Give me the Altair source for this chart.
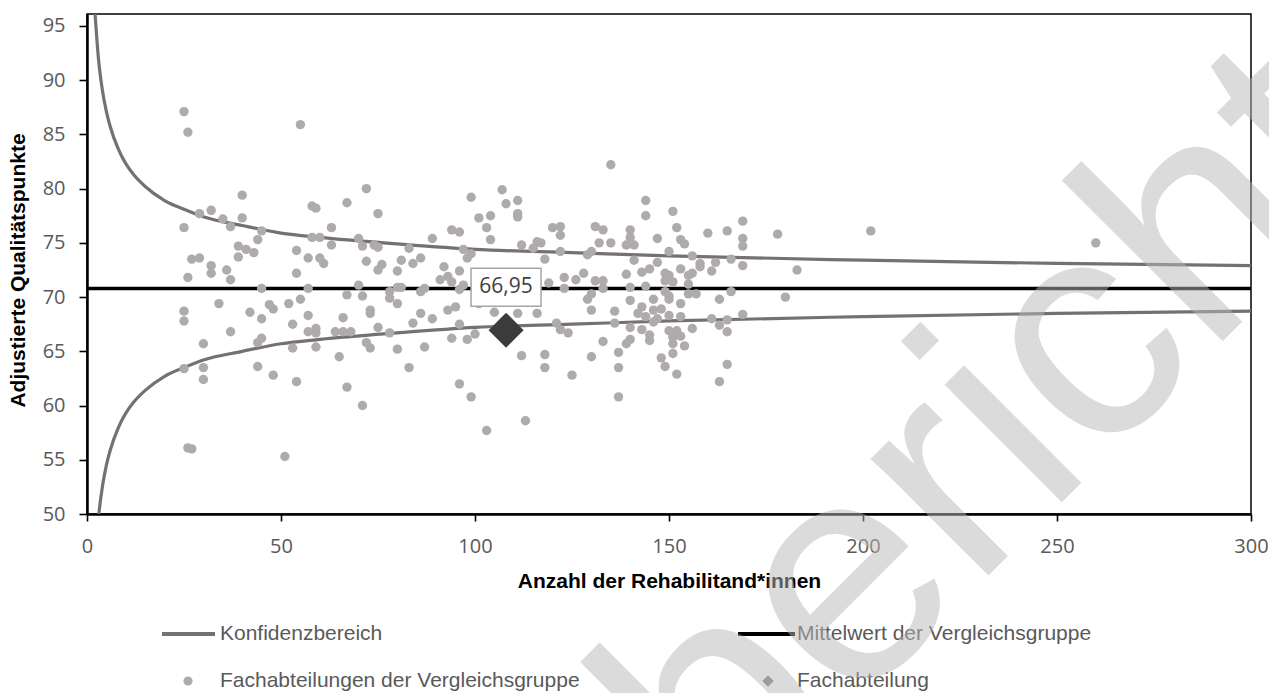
import altair as alt
import pandas as pd

# ---------------- data ----------------
# Fachabteilungen der Vergleichsgruppe: (Anzahl Rehabilitand*innen, adjustierte Qualitätspunkte)
group_n = [25, 26, 55, 72, 40, 29, 32, 35, 37, 40, 25, 45, 44, 39, 41, 43, 39, 27, 29, 32, 36, 32, 26, 54,
           58, 59, 67, 75, 63, 58, 60, 63, 70, 71, 74, 75, 57, 60, 61, 72, 75, 76, 80, 81, 54,
           37, 45, 57, 25, 25, 34, 42, 45, 47, 48, 52, 55, 57, 53, 57, 59, 59, 37, 30, 45, 44, 53, 59,
           67, 70, 71, 66, 64, 66, 68, 73, 73, 75, 78, 78, 80, 80, 78, 72, 73, 80, 65, 25, 30, 30, 44,
           48, 54, 67, 71, 26, 27, 51,
           135, 107, 99, 108, 111, 111, 111, 104, 101, 103, 104, 94, 96, 89, 83, 84, 86, 97, 99, 98, 92,
           96, 91, 93, 94, 97, 96, 87, 86, 81, 101, 95, 93, 86, 89, 84, 96, 105, 111, 116, 100, 98, 94,
           87, 83, 112, 118, 118, 125, 119, 123, 123, 126, 128, 118, 122, 116, 117, 112, 115, 120, 122,
           122, 131, 133, 132, 135, 130, 129, 131, 133, 133, 130, 129, 130, 136, 136, 121, 122, 124, 133,
           130, 137, 137, 139, 140, 140, 143, 145, 145, 140, 140, 139, 141, 144, 144, 141, 139, 143, 145,
           147, 147, 150, 151, 152, 153, 154, 156, 158, 160, 165, 169, 169, 169, 178, 166, 169, 162, 161,
           158, 153, 149, 150, 149, 151, 155, 156, 155, 144, 140, 149, 150, 155, 157, 166, 163, 180, 183,
           140, 146, 150, 153, 143, 146, 148, 142, 144, 147, 150, 153, 161, 165, 169, 163, 156, 146, 150,
           152, 151, 153, 151, 154, 151, 165, 148, 149, 152, 165, 96, 99, 103, 113, 137, 163, 202, 260]
group_q = [87.1, 85.2, 85.9, 80.0, 79.4, 77.7, 78.0, 77.2, 76.5, 77.3, 76.4, 76.1, 75.3, 74.7, 74.4, 74.1,
           73.7, 73.5, 73.6, 72.9, 72.5, 72.2, 71.8, 74.3,
           78.4, 78.2, 78.7, 77.7, 76.4, 75.5, 75.5, 74.8, 75.4, 74.7, 74.8, 74.6, 73.6, 73.6, 73.1, 73.3,
           72.5, 73.0, 72.4, 73.4, 72.2,
           71.6, 70.8, 70.8, 68.7, 67.8, 69.4, 68.6, 68.0, 69.3, 68.9, 69.4, 69.8, 68.3, 67.5, 66.8, 67.1,
           66.7, 66.8, 65.7, 66.2, 65.8, 65.3, 65.4,
           70.2, 71.1, 70.1, 68.1, 66.8, 66.8, 66.8, 68.8, 68.5, 67.2, 70.5, 69.9, 69.4, 70.9, 66.7, 65.8,
           65.3, 65.2, 64.5, 63.4, 63.5, 62.4, 63.6,
           62.8, 62.2, 61.7, 60.0, 56.1, 56.0, 55.3,
           82.2, 79.9, 79.2, 78.6, 78.9, 77.7, 77.4, 77.5, 77.3, 76.4, 75.3, 76.2, 76.0, 75.4, 74.5, 73.1,
           73.6, 74.4, 74.0, 73.6, 72.8,
           72.4, 71.6, 71.9, 71.4, 71.1, 70.7, 70.8, 70.5, 70.9, 69.4, 69.1, 68.8, 68.5, 68.0, 67.6, 67.5,
           68.6, 68.5, 68.5, 66.6, 66.1, 66.2,
           65.4, 63.5, 64.6, 64.7, 63.5, 62.8, 71.3, 71.8, 70.8, 71.6, 72.2, 73.5, 74.2, 75.1, 75.0, 74.8,
           74.5, 76.4, 76.5,
           75.7, 76.5, 76.2, 75.0, 75.0, 74.2, 73.9, 71.5, 71.5, 70.8, 70.3, 69.8, 68.8, 68.7, 67.6, 67.6,
           67.0, 66.7, 65.9,
           64.5, 64.9, 63.5, 65.7, 66.1, 67.2, 67.0, 66.5, 66.0, 76.2, 75.5, 74.8, 74.8, 78.9, 77.5, 73.4,
           72.1, 72.3, 72.6,
           73.2, 75.4, 74.2, 77.9, 76.4, 75.3, 74.9, 73.8, 73.1, 75.9, 76.1, 77.0, 75.4, 74.7, 75.8, 73.5,
           72.9, 73.2, 72.4,
           72.8, 72.6, 72.2, 72.0, 71.5, 71.4, 72.0, 72.2, 71.2, 71.0, 70.9, 70.5, 70.1, 70.3, 70.3, 70.5,
           69.8, 70.0, 72.5,
           69.7, 69.8, 69.8, 69.4, 69.1, 68.8, 68.9, 68.5, 68.2, 68.0, 68.3, 68.2, 68.0, 67.9, 68.4, 67.4,
           67.1, 67.7, 66.9,
           66.9, 66.3, 66.4, 65.7, 65.5, 64.8, 66.8, 64.4, 63.6, 62.9, 63.8, 62.0, 60.8, 57.7, 58.6, 60.8,
           62.2, 76.1, 75.0]

# Konfidenzbereich (upper / lower bound)
ci_n = [2, 3, 4, 5, 6, 8, 10, 12, 15, 20, 25, 30, 40, 50, 60, 80, 100, 125, 150, 200, 250, 300]
ci_upper = [96.5, 91.8, 89.0, 87.1, 85.7, 83.7, 82.3, 81.3, 80.2, 78.9, 78.1, 77.4, 76.6, 75.9, 75.5,
            74.9, 74.4, 74.1, 73.8, 73.4, 73.1, 72.9]
ci_lower = [45.1, 49.8, 52.6, 54.5, 55.9, 57.9, 59.3, 60.3, 61.4, 62.7, 63.5, 64.2, 65.0, 65.7, 66.1,
            66.7, 67.2, 67.5, 67.8, 68.2, 68.5, 68.7]

# Mittelwert der Vergleichsgruppe
mean_value = [70.8]

# Fachabteilung
own_n = [108]
own_q = [66.95]
own_label = ["66,95"]

x_ticks = [0, 50, 100, 150, 200, 250, 300]
y_ticks = [50, 55, 60, 65, 70, 75, 80, 85, 90, 95]

legend_labels = ["Konfidenzbereich", "Mittelwert der Vergleichsgruppe",
                 "Fachabteilungen der Vergleichsgruppe", "Fachabteilung"]
watermark_text = ["Musterbericht"]

# ---------------- tables ----------------
group_df = pd.DataFrame({"n": group_n, "q": group_q})
ci_df = pd.concat([
    pd.DataFrame({"n": ci_n, "q": ci_upper, "bound": "upper"}),
    pd.DataFrame({"n": ci_n, "q": ci_lower, "bound": "lower"}),
])
mean_df = pd.DataFrame({"q": mean_value})
own_df = pd.DataFrame({"n": own_n, "q": own_q, "label": own_label})
one = pd.DataFrame({"k": [0]})

# ---------------- styles ----------------
TICK_FONT = "Open Sans"
TEXT_FONT = "Liberation Sans"
GREY_TXT = "#595959"
CI_COL = "#767171"
DOT_COL = "#afabab"
OWN_COL = "#3b3b3b"

x_scale = alt.Scale(domain=[0, 300], nice=False, zero=False)
y_scale = alt.Scale(domain=[50, 96.1], nice=False, zero=False)

x_axis = alt.Axis(
    title="Anzahl der Rehabilitand*innen", values=x_ticks, grid=False,
    labelFont=TICK_FONT, labelFontSize=20, labelColor=GREY_TXT, labelPadding=15,
    labelFlush=False, labelOverlap=False,
    tickSize=7, tickColor="black", tickWidth=1.6,
    domainColor="black", domainWidth=2.5,
    titleFont=TEXT_FONT, titleFontSize=21, titleFontWeight="bold", titleColor="black",
    titleY=67, titleBaseline="middle",
)
y_axis = alt.Axis(
    title="Adjustierte Qualitätspunkte", values=y_ticks, grid=False,
    labelFont=TICK_FONT, labelFontSize=20, labelColor=GREY_TXT, labelPadding=14,
    labelOverlap=False, labelFlush=False,
    tickSize=8, tickColor="black", tickWidth=1.6,
    domainColor="black", domainWidth=2.5,
    titleFont=TEXT_FONT, titleFontSize=21, titleFontWeight="bold", titleColor="black",
    titleX=-69, titleY=256, titleAngle=270, titleBaseline="middle",
)

X = alt.X("n:Q", scale=x_scale, axis=x_axis)
Y = alt.Y("q:Q", scale=y_scale, axis=y_axis)

# ---------------- layers ----------------
ci_layer = alt.Chart(ci_df).mark_line(
    color=CI_COL, strokeWidth=3.2, interpolate="monotone", clip=True
).encode(x=X, y=Y, detail="bound:N")

mean_layer = alt.Chart(mean_df).mark_rule(color="black", strokeWidth=3.5).encode(y=Y)

dots = alt.Chart(group_df).mark_circle(size=88, color=DOT_COL, opacity=1).encode(x=X, y=Y)

own_point = alt.Chart(own_df).mark_point(
    shape="diamond", filled=True, size=1225, color=OWN_COL, opacity=1
).encode(x=X, y=Y)

label_box = alt.Chart(own_df).mark_rect(
    fill="white", stroke="#a6a6a6", strokeWidth=1.5,
    xOffset=-35, x2Offset=35, yOffset=-62, y2Offset=-24
).encode(x=X, x2="n:Q", y=Y, y2="q:Q")

label_text = alt.Chart(own_df).mark_text(
    font=TICK_FONT, fontSize=21, color="#404040", dy=-43, baseline="middle", align="center"
).encode(x=X, y=Y, text="label:N")

# legend (drawn below the plot)
def legend_rule(x1, x2, y, color, width):
    return alt.Chart(one).mark_rule(color=color, strokeWidth=width).encode(
        x=alt.value(x1), x2=alt.value(x2), y=alt.value(y))

def legend_text(x, y, txt):
    return alt.Chart(one).mark_text(
        text=txt, font=TEXT_FONT, fontSize=21, color=GREY_TXT, align="left", baseline="middle"
    ).encode(x=alt.value(x), y=alt.value(y))

row1, row2 = 620, 667
leg = [
    legend_rule(75, 128, row1, CI_COL, 4),
    legend_text(133, row1, legend_labels[0]),
    legend_rule(651, 708, row1, "black", 4),
    legend_text(710, row1, legend_labels[1]),
    alt.Chart(one).mark_circle(size=85, color=DOT_COL, opacity=1).encode(
        x=alt.value(101), y=alt.value(row2)),
    legend_text(133, row2, legend_labels[2]),
    alt.Chart(one).mark_point(shape="diamond", filled=True, size=130, color="#7f7f7f", opacity=1).encode(
        x=alt.value(681), y=alt.value(row2)),
    legend_text(710, row2, legend_labels[3]),
]

watermark = alt.Chart(pd.DataFrame({"t": watermark_text})).mark_text(
    font=TEXT_FONT, fontSize=314, angle=315, align="center", baseline="alphabetic",
    fill="#b8b8b8", fillOpacity=0.5
).encode(x=alt.value(633), y=alt.value(830), text="t:N")

chart = alt.layer(
    ci_layer, mean_layer, dots, own_point, label_box, label_text, *leg, watermark
).properties(
    width=1164, height=500,
    autosize=alt.AutoSizeParams(type="none"),
    padding={"left": 87, "top": 14, "right": 18, "bottom": 179},
    background="white",
).configure_view(
    stroke="black", strokeWidth=1.5
)

chart.save("out.html", embed_options={"renderer": "svg", "actions": False})
